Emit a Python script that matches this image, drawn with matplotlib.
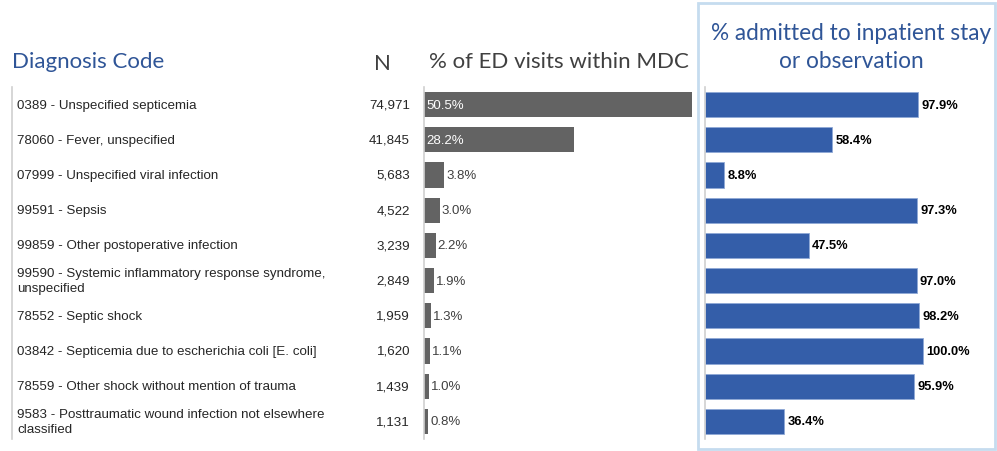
import matplotlib
matplotlib.use('Agg')
from matplotlib import pyplot as plt
from matplotlib.patches import Rectangle
from matplotlib.transforms import blended_transform_factory

W, H = 997, 452

diagnoses = [
    '0389 - Unspecified septicemia',
    '78060 - Fever, unspecified',
    '07999 - Unspecified viral infection',
    '99591 - Sepsis',
    '99859 - Other postoperative infection',
    '99590 - Systemic inflammatory response syndrome,\nunspecified',
    '78552 - Septic shock',
    '03842 - Septicemia due to escherichia coli [E. coli]',
    '78559 - Other shock without mention of trauma',
    '9583 - Posttraumatic wound infection not elsewhere\nclassified',
]
counts = ['74,971', '41,845', '5,683', '4,522', '3,239',
          '2,849', '1,959', '1,620', '1,439', '1,131']
pct_ed = [50.5, 28.2, 3.8, 3.0, 2.2, 1.9, 1.3, 1.1, 1.0, 0.8]
pct_admit = [97.9, 58.4, 8.8, 97.3, 47.5, 97.0, 98.2, 100.0, 95.9, 36.4]

gray = '#636363'
blue = '#345EA9'
title_blue = '#2F5597'
dark = '#404040'

fig = plt.figure(figsize=(W / 100, H / 100), dpi=100)

def fx(px):
    return px / W

def fy(py):
    return 1 - py / H

top, bottom = 88, 440
rows = range(len(diagnoses))

# gray bars
ax1 = fig.add_axes([fx(424), fy(bottom), fx(692 - 424 + 1), (bottom - top) / H])
ax1.barh(rows, pct_ed, height=0.72, color=gray)
ax1.set_xlim(0, 50.7)
ax1.set_ylim(len(diagnoses) - 0.5, -0.5)
for i, v in enumerate(pct_ed):
    if v > 20:
        ax1.text(0.4, i, f'{v:.1f}%', color='white', va='center', ha='left',
                 fontsize=9.5, family='Liberation Sans')
    else:
        ax1.text(v + 0.35, i, f'{v:.1f}%', color=dark, va='center', ha='left',
                 fontsize=9.5, family='Liberation Sans')

# blue bars
ax2 = fig.add_axes([fx(705), fy(bottom), fx(990 - 705), (bottom - top) / H])
ax2.barh(rows, pct_admit, height=0.72, color=blue, edgecolor='#8FA9D6', linewidth=0.6)
ax2.set_xlim(0, 130.7)
ax2.set_ylim(len(diagnoses) - 0.5, -0.5)
for i, v in enumerate(pct_admit):
    ax2.text(v + 1.4, i, f'{v:.1f}%', color='black', va='center', ha='left',
             fontsize=9.3, fontweight='bold', family='Liberation Sans')

for ax in (ax1, ax2):
    ax.set_xticks([])
    ax.set_yticks([])
    for s in ['top', 'right', 'bottom']:
        ax.spines[s].set_visible(False)
    ax.spines['left'].set_color('#D0D0D0')
    ax.spines['left'].set_linewidth(1.2)

# table text
tr = blended_transform_factory(fig.transFigure, ax1.transData)
for i, (d, n) in enumerate(zip(diagnoses, counts)):
    fig.text(fx(17), i, d, transform=tr, va='center', ha='left', fontsize=9.6,
             color='#262626', family='Liberation Sans', linespacing=1.3)
    fig.text(fx(410), i, n, transform=tr, va='center', ha='right', fontsize=9.6,
             color='#262626', family='Liberation Sans')

# left thin line
fig.add_artist(plt.Line2D([fx(12), fx(12)], [fy(top), fy(bottom)],
                          color='#D0D0D0', lw=1.2))

# headers
fig.text(fx(12), fy(62), 'Diagnosis Code', color=title_blue, fontsize=16,
         family='Lato', va='center', ha='left')
fig.text(fx(382), fy(64), 'N', color=dark, fontsize=16, family='Lato',
         va='center', ha='center')
fig.text(fx(559), fy(62), '% of ED visits within MDC', color=dark, fontsize=16,
         family='Lato', va='center', ha='center')
fig.text(fx(851), fy(33), '% admitted to inpatient stay', color=title_blue,
         fontsize=16.3, family='Lato', va='center', ha='center')
fig.text(fx(851), fy(62), 'or observation', color=title_blue,
         fontsize=16.3, family='Lato', va='center', ha='center')

# right panel frame
fig.add_artist(Rectangle((fx(698), fy(450)), fx(995 - 698), (450 - 4) / H,
                         transform=fig.transFigure, fill=False,
                         edgecolor='#C5DCEF', lw=2))

fig.savefig('out.png', dpi=100)
